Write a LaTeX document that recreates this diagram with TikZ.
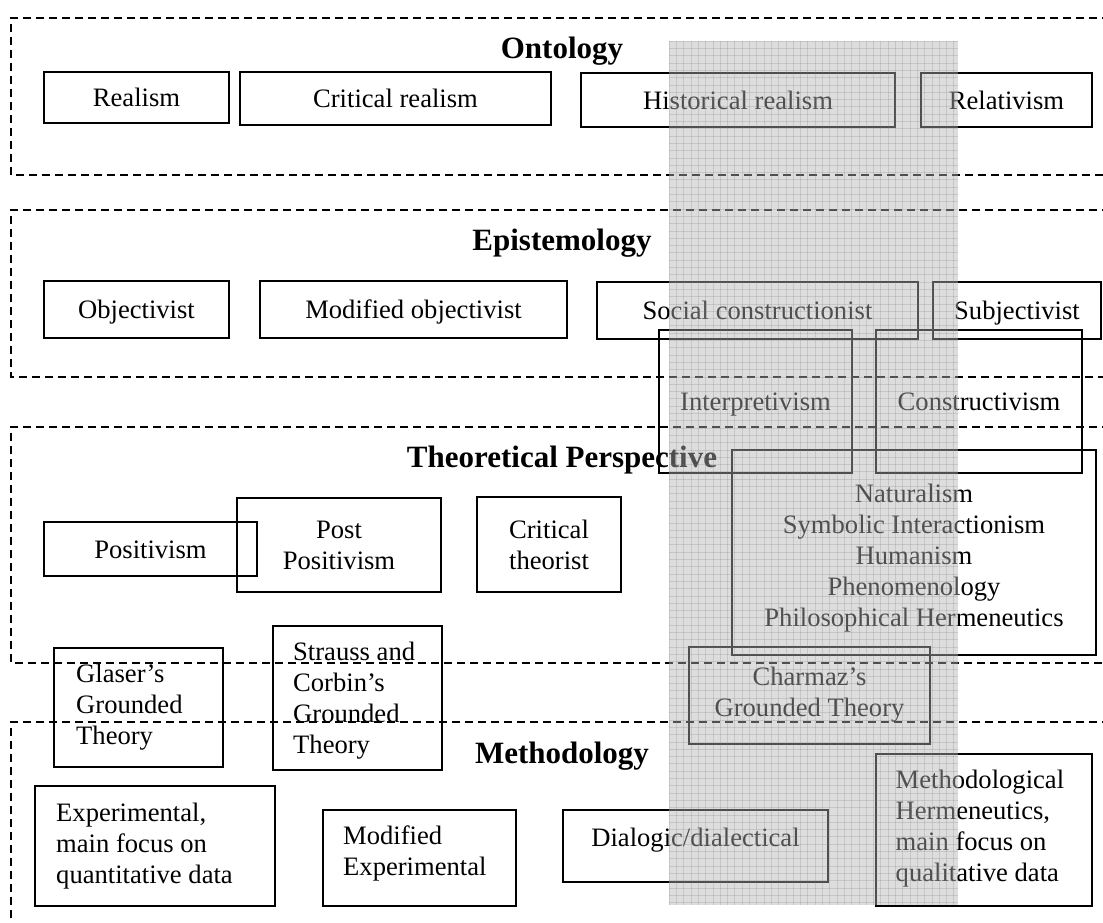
\documentclass[tikz,border=0pt]{standalone}
\usepackage{fontspec}
\setmainfont{Liberation Serif}
\newcommand\fl{\rule{0pt}{24pt}}
\begin{document}
\begin{tikzpicture}[x=1pt,y=-1pt,
  boxbase/.style={draw, line width=1.5pt, inner sep=0pt,
    font=\fontsize{26.6pt}{31pt}\selectfont},
  box/.style={boxbase, text height=22pt, text depth=4pt},
  boxc/.style={boxbase, align=center},
  body/.style={inner sep=0pt, font=\fontsize{26.6pt}{31pt}\selectfont},
  ttl/.style={anchor=base, inner sep=0pt, font=\fontsize{31pt}{36pt}\selectfont\bfseries},
  layer/.style={draw, line width=1.5pt, dash pattern=on 8pt off 5pt},
  band/.style={fill=black!30, opacity=0.44},
  bandgrid/.style={draw=black!55, line width=0.5pt, opacity=0.22}]
\useasboundingbox (0,0) rectangle (1103,922);
\clip (0,0) rectangle (1103,922);

% layers
\draw[layer] (1110,18) -| (11,175) -- (1110,175);
\draw[layer] (1110,210) -| (11,377) -- (1110,377);
\draw[layer] (1110,427) -| (11,663) -- (1110,663);
\draw[layer] (1110,722) -| (11,930);

% titles
\node[ttl] (tont) at (562,58) {Ontology};
\node[ttl] (tepi) at (562,250) {Epistemology};
\node[ttl] (tthe) at (562,467) {Theoretical Perspective};
\node[ttl] (tmet) at (562,763) {Methodology};

% ontology
\node[box, minimum width=185pt, minimum height=51pt] (realism) at (136.5,97.5) {Realism};
\node[box, minimum width=311pt, minimum height=53pt] (critreal) at (395.5,98.5) {Critical realism};
\node[box, minimum width=314pt, minimum height=54pt] (histreal) at (738,100) {Historical realism};
\node[box, minimum width=171pt, minimum height=54pt] (relativ) at (1006.5,100) {Relativism};

% epistemology
\node[box, minimum width=185pt, minimum height=57pt] (objectiv) at (136.5,309.5) {Objectivist};
\node[box, minimum width=307pt, minimum height=57pt] (modobj) at (413.5,309.5) {Modified objectivist};
\node[box, minimum width=321pt, minimum height=57pt] (socconst) at (757.5,310.5) {Social constructionist};
\node[box, minimum width=168pt, minimum height=57pt] (subject) at (1017,310.5) {Subjectivist};
\node[box, minimum width=193pt, minimum height=143pt] (interp) at (755.5,401.5) {Interpretivism};
\node[box, minimum width=206pt, minimum height=143pt] (construct) at (979,401.5) {Constructivism};

% theoretical perspective
\node[box, minimum width=213pt, minimum height=54pt] (positiv) at (150.5,549) {Positivism};
\node[boxc, minimum width=204pt, minimum height=94pt] (postpos) at (339,545) {Post\\Positivism};
\node[boxc, minimum width=144pt, minimum height=95pt] (crittheo) at (549,544.5) {Critical\\theorist};
\node[box, minimum width=364pt, minimum height=205pt] (natural) at (914,552.5) {};
\node[body, anchor=north, align=center] (naturaltxt) at (914,478)
  {\fl Naturalism\\Symbolic Interactionism\\Humanism\\Phenomenology\\Philosophical Hermeneutics};

% grounded theories
\node[box, minimum width=169pt, minimum height=119pt] (glaser) at (138.5,707.5) {};
\node[body, anchor=north west, align=left] (glasertxt) at (76,658)
  {\fl Glaser’s\\Grounded\\Theory};
\node[box, minimum width=169pt, minimum height=144pt] (strauss) at (357.5,698) {};
\node[body, anchor=north west, align=left] (strausstxt) at (293,636)
  {\fl Strauss and\\Corbin’s\\Grounded\\Theory};
\node[box, minimum width=241pt, minimum height=97pt] (charmaz) at (809.5,695.5) {};
\node[body, anchor=north, align=center] (charmaztxt) at (809.5,661)
  {\fl Charmaz’s\\Grounded Theory};

% methodology
\node[box, minimum width=240pt, minimum height=120pt] (exper) at (155,846) {};
\node[body, anchor=north west, align=left] (expertxt) at (56,797)
  {\fl Experimental,\\main focus on\\quantitative data};
\node[box, minimum width=193pt, minimum height=96pt] (modexp) at (419.5,858) {};
\node[body, anchor=north west, align=left] (modexptxt) at (343,820)
  {\fl Modified\\Experimental};
\node[box, minimum width=265pt, minimum height=72pt] (dialog) at (695.5,846) {};
\node[body, anchor=north] (dialogtxt) at (695.5,822) {\fl Dialogic/dialectical};
\node[box, minimum width=216pt, minimum height=152pt] (methherm) at (984,830) {};
\node[body, anchor=north west, align=left] (methhermtxt) at (895.5,764)
  {\fl Methodological\\Hermeneutics,\\main focus on\\qualitative data};

% shaded band
\fill[band] (669,41) rectangle (958,905);
\begin{scope}
  \clip (669,41) rectangle (958,905);
  \foreach \gx in {0,...,40} { \draw[bandgrid] (669+\gx*7.3,41) -- (669+\gx*7.3,905); }
  \foreach \gy in {0,...,119} { \draw[bandgrid] (669,41+\gy*7.3) -- (958,41+\gy*7.3); }
\end{scope}
\end{tikzpicture}
\end{document}
